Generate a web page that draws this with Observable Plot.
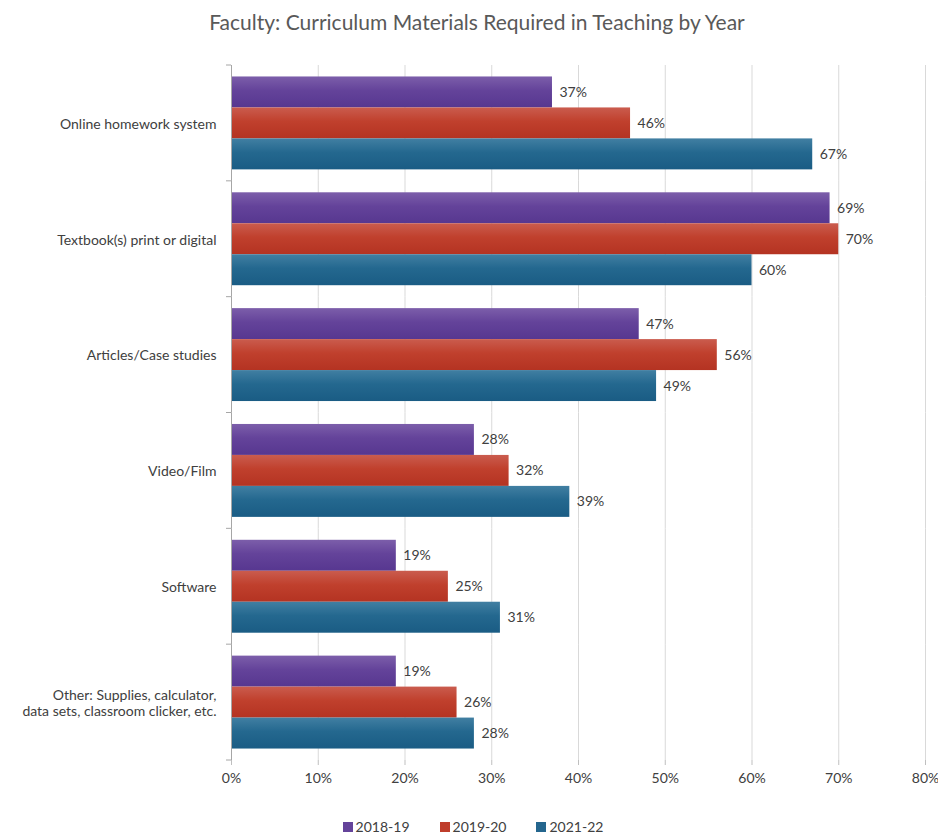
<!DOCTYPE html>
<html>
<head>
<meta charset="utf-8">
<script src="https://cdn.jsdelivr.net/npm/d3@7"></script>
<script src="https://cdn.jsdelivr.net/npm/@observablehq/plot@0.6"></script>
<style>
  body { margin: 0; background: #fff; font-family: Lato, "Open Sans", sans-serif; }
  #title { height: 50px; line-height: 44px; text-align: center; font-size: 21px; color: #595959; padding-left: 16px; }
  #legend { display: flex; justify-content: center; gap: 30px; font-size: 14px; color: #404040; margin-top: 18px; padding-left: 8px; }
  #legend span.sw { display: inline-block; width: 10px; height: 10px; margin-right: 3px; }
</style>
</head>
<body>
<div id="title">Faculty: Curriculum Materials Required in Teaching by Year</div>
<div id="chart"></div>
<div id="legend"></div>
<script>
const categories = [
  "Online homework system",
  "Textbook(s) print or digital",
  "Articles/Case studies",
  "Video/Film",
  "Software",
  "Other: Supplies, calculator,\ndata sets, classroom clicker, etc."
];
const years = ["2018-19", "2019-20", "2021-22"];
const values2018 = [37, 69, 47, 28, 19, 19];
const values2019 = [46, 70, 56, 32, 25, 26];
const values2021 = [67, 60, 49, 39, 31, 28];
const xTicks = [0, 10, 20, 30, 40, 50, 60, 70, 80];
const colors = ["#64439a", "#bf3d2b", "#24668e"];
const gradStops = [
  ["#7c5eaa", "#64439a", "#573790"],
  ["#ca5c4e", "#c0402d", "#b43322"],
  ["#417fa2", "#24688f", "#1a5c84"]
];

const series = [values2018, values2019, values2021];
const rows = [];
categories.forEach((c, i) => years.forEach((y, j) => rows.push({category: c, year: y, value: series[j][i]})));

const pct = d => d + "%";

const plot = Plot.plot({
  width: 938,
  height: 750,
  marginLeft: 231,
  marginRight: 13,
  marginTop: 15,
  marginBottom: 40,
  style: {fontFamily: "Lato, sans-serif", fontSize: "14px", color: "#404040", background: "#fff"},
  x: {domain: [0, 80], label: null},
  y: {domain: years, paddingInner: 0, paddingOuter: 0.37, round: false, axis: null},
  fy: {domain: categories, padding: 0, round: false, label: null, axis: null},
  marks: [
    Plot.gridX({ticks: xTicks, stroke: "#d9d9d9", strokeOpacity: 1}),
    ...years.map((yr, j) => Plot.barX(rows.filter(d => d.year === yr), {
      x: "value", y: "year", fy: "category", fill: `url(#grad${j})`
    })),
    Plot.text(rows, {x: "value", y: "year", fy: "category", text: d => pct(d.value), dx: 7, textAnchor: "start", fill: "#404040"}),
    Plot.ruleX([0], {stroke: "#a6a6a6"}),
    Plot.axisX({ticks: xTicks, tickFormat: pct, tickSize: 5, tickPadding: 8, stroke: "#bfbfbf", fill: "#404040", label: null}),
    Plot.axisFy({anchor: "left", tickSize: 0, tickPadding: 15, label: null, fill: "#404040", lineHeight: 1.2})
  ]
});

// gradient defs for the bars
const svg = d3.select(plot);
const defs = svg.insert("defs", ":first-child");
gradStops.forEach((stops, j) => {
  const g = defs.append("linearGradient").attr("id", `grad${j}`).attr("x1", 0).attr("x2", 0).attr("y1", 0).attr("y2", 1);
  g.append("stop").attr("offset", "0%").attr("stop-color", stops[0]);
  g.append("stop").attr("offset", "45%").attr("stop-color", stops[1]);
  g.append("stop").attr("offset", "100%").attr("stop-color", stops[2]);
});

// boundary ticks on the category axis, from the fy scale
const fy = plot.scale("fy");
const xs = plot.scale("x");
const x0 = xs.apply(0);
const bandH = fy.bandwidth;
const bounds = categories.map(c => fy.apply(c)).concat([fy.apply(categories[categories.length - 1]) + bandH]);
svg.append("g").selectAll("line").data(bounds).join("line")
  .attr("x1", x0 - 5).attr("x2", x0)
  .attr("y1", d => d).attr("y2", d => d)
  .attr("stroke", "#a6a6a6");

document.getElementById("chart").appendChild(plot);

const legend = d3.select("#legend");
years.forEach((yr, j) => {
  const item = legend.append("div");
  item.append("span").attr("class", "sw").style("background", colors[j]);
  item.append("span").text(yr);
});
</script>
</body>
</html>
